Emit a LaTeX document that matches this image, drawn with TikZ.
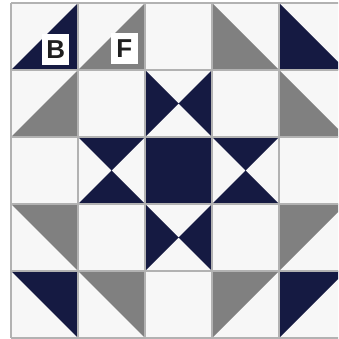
\documentclass[tikz,border=0pt]{standalone}
\usepackage{fontspec}
\setsansfont{Liberation Sans}
\definecolor{QuiltNavy}{RGB}{21,26,66}
\definecolor{QuiltGray}{RGB}{128,128,128}
\definecolor{QuiltWhite}{RGB}{247,247,247}
\definecolor{SeamGray}{RGB}{178,178,178}
\usetikzlibrary{positioning}

\begin{document}
\begin{tikzpicture}[
    navy/.style={fill=QuiltNavy},
    grey/.style={fill=QuiltGray},
    seam/.style={draw=SeamGray, line width=0.7pt},
    tag/.style={fill=white, inner sep=0pt, minimum width=0.40cm, minimum height=0.46cm, font=\sffamily\bfseries\fontsize{11}{11}\selectfont, text=black!88}
]
    \useasboundingbox (-0.165,-0.015) rectangle (4.88,5.045);
    \clip (-0.165,-0.015) rectangle (4.88,5.045);
    \fill[white] (-0.165,-0.015) rectangle (4.88,5.045);
    \fill[QuiltWhite] (0,0) rectangle (5,5);

    % half-square triangles: lower right, lower left, upper right, upper left
    \foreach \x/\y/\s in {0/4/navy, 1/4/grey, 0/3/grey}
        \fill[\s] (\x,\y) -- ++(1,0) -- ++(0,1) -- cycle;
    \foreach \x/\y/\s in {4/4/navy, 3/4/grey, 4/3/grey}
        \fill[\s] (\x,\y) -- ++(1,0) -- (\x,\y+1) -- cycle;
    \foreach \x/\y/\s in {0/0/navy, 1/0/grey, 0/1/grey}
        \fill[\s] (\x,\y+1) -- ++(1,0) -- (\x+1,\y) -- cycle;
    \foreach \x/\y/\s in {4/0/navy, 3/0/grey, 4/1/grey}
        \fill[\s] (\x,\y+1) -- ++(1,0) -- (\x,\y) -- cycle;

    % star points
    \foreach \y in {3,1}
        \fill[navy] (2,\y) -- (2.5,\y+0.5) -- (2,\y+1) -- cycle
                    (3,\y) -- (2.5,\y+0.5) -- (3,\y+1) -- cycle;
    \foreach \x in {1,3}
        \fill[navy] (\x,2) -- (\x+0.5,2.5) -- (\x+1,2) -- cycle
                    (\x,3) -- (\x+0.5,2.5) -- (\x+1,3) -- cycle;
    \fill[navy] (2,2) rectangle (3,3);

    % seams
    \foreach \i in {0,...,5} {
        \draw[seam] (\i,0) -- (\i,5);
        \draw[seam] (0,\i) -- (5,\i);
    }

    \node[tag] (tagB) at (0.666,4.304) {B};
    \node[tag] (tagF) at (1.69,4.326) {F};
\end{tikzpicture}
\end{document}
